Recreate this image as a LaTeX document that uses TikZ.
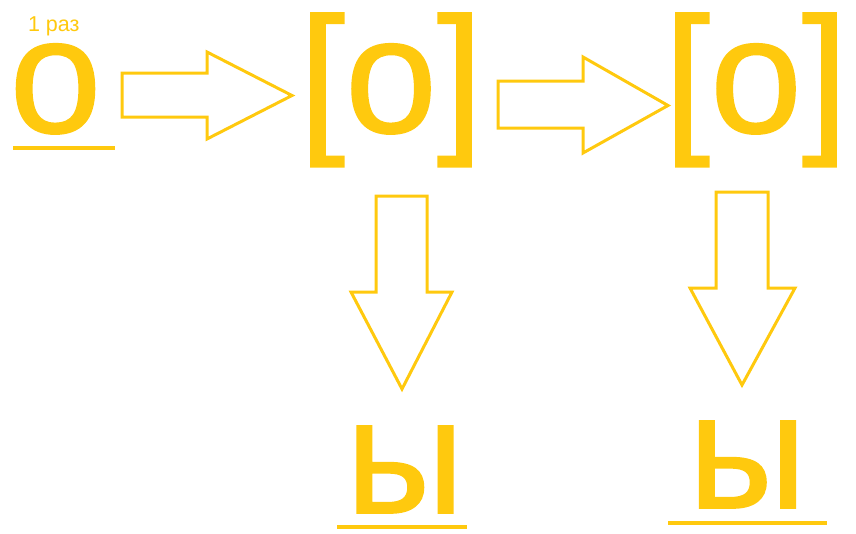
\documentclass[tikz,border=0pt]{standalone}
\usepackage{fontspec}
\setmainfont{Liberation Sans}
\newfontfamily\thickfont[FakeBold=1.0]{Liberation Sans}
\definecolor{gold}{RGB}{255,201,14}
\begin{document}
\begin{tikzpicture}[x=1pt,y=-1pt,
  big/.style={inner sep=0pt,outer sep=0pt,anchor=base,text=gold,text depth=0pt,text height=92pt,font=\thickfont\fontsize{165}{165}\selectfont},
  small/.style={inner sep=0pt,outer sep=0pt,anchor=base west,text=gold,font=\fontsize{21.5}{21.5}\selectfont},
  blockarrow/.style={draw=gold,line width=3pt,line join=miter},
  uline/.style={draw=gold,line width=3.5pt}]
\useasboundingbox (0,0) rectangle (856,533);
% letters
\node[small] (lbl) at (28,31.5) {1 раз};
\node[big] (o1) at (55.5,132.5) {о};
\node[big,text height=122pt] (b1) at (391,132.5) {[о]};
\node[big,text height=122pt] (b2) at (756,132.5) {[о]};
\node[big] (y1) at (405,513) {ы};
\node[big] (y2) at (747.5,508) {ы};
% underlines
\coordinate (u1a) at (13,148);  \coordinate (u1b) at (115,148);
\coordinate (u2a) at (337,527); \coordinate (u2b) at (467,527);
\coordinate (u3a) at (668,523); \coordinate (u3b) at (827,523);
\draw[uline] (u1a) -- (u1b);
\draw[uline] (u2a) -- (u2b);
\draw[uline] (u3a) -- (u3b);
% block arrows
\draw[blockarrow] (122,73) -- (207,73) -- (207,52) -- (292,95.5) -- (207,139) -- (207,117) -- (122,117) -- cycle;
\draw[blockarrow] (498,81) -- (583,81) -- (583,57) -- (668,105.5) -- (583,153) -- (583,128) -- (498,128) -- cycle;
\draw[blockarrow] (376,196) -- (427,196) -- (427,292) -- (452,292) -- (402,389) -- (351,292) -- (376,292) -- cycle;
\draw[blockarrow] (716,192) -- (768,192) -- (768,288) -- (795,288) -- (742,385) -- (690,288) -- (716,288) -- cycle;
\end{tikzpicture}
\end{document}
